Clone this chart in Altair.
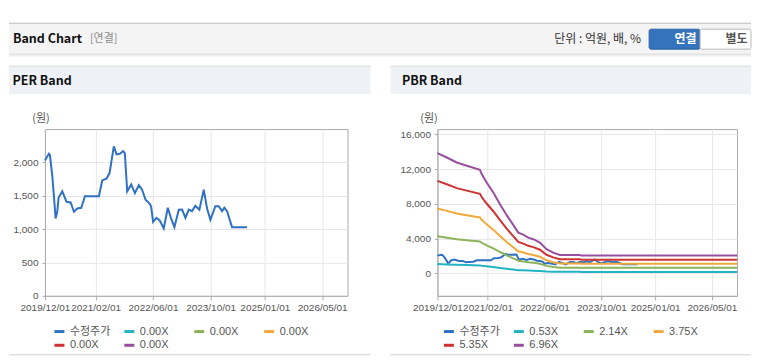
import altair as alt
import pandas as pd

FONT = "Liberation Sans, Noto Sans CJK KR, sans-serif"
KFONT = "Noto Sans CJK KR, sans-serif"

# ---------------- data ----------------
price_dates = [
    "2019-12-01", "2020-01-03", "2020-01-12", "2020-02-01", "2020-02-15", "2020-02-29",
    "2020-03-14", "2020-03-25", "2020-04-25", "2020-06-01", "2020-07-05", "2020-08-02",
    "2020-08-30", "2020-10-03", "2020-11-03", "2021-03-01", "2021-03-29", "2021-05-04",
    "2021-05-30", "2021-07-05", "2021-07-28", "2021-08-25", "2021-09-22", "2021-10-06",
    "2021-10-26", "2021-11-29", "2021-12-30", "2022-02-01", "2022-03-01", "2022-03-30",
    "2022-05-05", "2022-05-16", "2022-06-02", "2022-06-30", "2022-07-28", "2022-08-31",
    "2022-10-04", "2022-11-01", "2022-11-29", "2023-01-05", "2023-02-02", "2023-03-02",
    "2023-03-30", "2023-04-27", "2023-05-25", "2023-06-28", "2023-08-04", "2023-09-01",
    "2023-09-29", "2023-11-10", "2023-12-08", "2024-01-06", "2024-01-25", "2024-02-17",
    "2024-03-30", "2024-08-03",
]
price_values = [
    2030, 2130, 2110, 1800, 1490, 1160,
    1260, 1470, 1567, 1410, 1400, 1260,
    1310, 1320, 1493, 1493, 1730, 1756,
    1840, 2240, 2120, 2130, 2170, 2140,
    1567, 1670, 1540, 1660, 1590, 1440,
    1380, 1340, 1110, 1170, 1130, 1010,
    1320, 1160, 1030, 1290, 1294, 1170,
    1294, 1270, 1350, 1290, 1592, 1310,
    1140, 1343, 1343, 1270, 1320, 1270,
    1030, 1030,
]

band_dates = [
    "2019-12-01", "2020-02-19", "2020-05-14", "2020-08-07", "2020-11-28", "2020-12-13",
    "2021-01-24", "2021-03-22", "2021-05-18", "2021-07-14", "2021-09-08", "2021-10-21",
    "2021-12-03", "2022-01-14", "2022-02-26", "2022-04-24", "2022-06-19", "2022-08-15",
    "2022-10-11", "2023-03-30", "2023-04-14", "2026-12-01",
]
band_053 = [1054, 1015, 971, 942, 907, 869, 796, 708, 606, 509, 424, 357,
            339, 313, 298, 269, 211, 181, 160, 160, 155, 155]
band_214 = [4254, 4098, 3920, 3805, 3662, 3510, 3212, 2857, 2446, 2057, 1712, 1440,
            1367, 1263, 1205, 1085, 852, 730, 646, 646, 625, 625]
band_375 = [7455, 7181, 6870, 6668, 6416, 6150, 5629, 5006, 4286, 3604, 3000, 2524,
            2396, 2213, 2111, 1901, 1493, 1279, 1133, 1133, 1095, 1095]
band_535 = [10636, 10245, 9801, 9512, 9154, 8774, 8030, 7142, 6115, 5141, 4280, 3601,
            3419, 3157, 3012, 2712, 2129, 1824, 1616, 1616, 1562, 1562]
band_696 = [13836, 13328, 12751, 12375, 11909, 11414, 10447, 9292, 7955, 6689, 5568, 4684,
            4447, 4106, 3918, 3529, 2770, 2373, 2102, 2102, 2032, 2032]

series_keys = ["k0", "k1", "k2", "k3", "k4", "k5"]
per_labels = ["수정주가", "0.00X", "0.00X", "0.00X", "0.00X", "0.00X"]
pbr_labels = ["수정주가", "0.53X", "2.14X", "3.75X", "5.35X", "6.96X"]
series_colors = ["#2f72c4", "#22b3c4", "#8cb35a", "#f2a93b", "#cf3232", "#984f9e"]

x_domain = ["2019-12-01", "2026-12-01"]
x_ticks = ["2019-12-01", "2021-02-01", "2022-06-01", "2023-10-01", "2025-01-01", "2026-05-01"]
per_y_domain = [0, 2500]
per_y_ticks = [0, 500, 1000, 1500, 2000]
pbr_y_domain = [-2600, 16600]
pbr_y_ticks = [0, 4000, 8000, 12000, 16000]

# ---------------- tables ----------------
price_df = pd.DataFrame({"date": price_dates, "value": price_values, "key": series_keys[0]})
band_df = pd.concat(
    [pd.DataFrame({"date": band_dates, "value": vals, "key": k})
     for k, vals in zip(series_keys[1:], [band_053, band_214, band_375, band_535, band_696])],
    ignore_index=True,
)
pbr_df = pd.concat([price_df, band_df], ignore_index=True)

one = pd.DataFrame({"d": [0]})


def dt(s):
    y, m, d = map(int, s.split("-"))
    return alt.DateTime(year=y, month=m, date=d, utc=True)


def rect(x, x2, y, y2, fill, stroke=None, radius=0):
    kw = {"fill": fill}
    if stroke:
        kw["stroke"] = stroke
        kw["strokeWidth"] = 1
    if radius:
        kw["cornerRadius"] = radius
    return alt.Chart(one).mark_rect(**kw).encode(
        x=alt.value(x), x2=alt.value(x2), y=alt.value(y), y2=alt.value(y2))


def hline(x, x2, y, color):
    return alt.Chart(one).mark_rule(color=color, strokeWidth=1).encode(
        x=alt.value(x), x2=alt.value(x2), y=alt.value(y))


def text(s, x, y, size, color, bold=False, align="left", font=KFONT):
    return alt.Chart(one).mark_text(
        text=s, align=align, baseline="middle", fontSize=size, color=color,
        fontWeight="bold" if bold else "normal", font=font,
    ).encode(x=alt.value(x), y=alt.value(y))


def label_expr(labels):
    keys = ",".join("'%s'" % k for k in series_keys)
    labs = ",".join("'%s'" % l for l in labels)
    return "[%s][indexof([%s], datum.value)]" % (labs, keys)


def line_layer(df, labels, y_domain, y_ticks, legend_x):
    x_enc = alt.X(
        "date:T",
        scale=alt.Scale(type="utc", domain=[dt(x_domain[0]), dt(x_domain[1])], nice=False),
        axis=alt.Axis(values=[dt(t) for t in x_ticks], format="%Y/%m/%d", title=None,
                      labelFlush=False, labelOverlap=False, grid=True, gridColor="#e7e7e7",
                      domainColor="#ababab", tickColor="#ababab", tickSize=4,
                      labelFont=FONT, labelFontSize=10, labelColor="#555555", labelPadding=3),
    )
    y_enc = alt.Y(
        "value:Q",
        scale=alt.Scale(domain=y_domain, nice=False, zero=False),
        axis=alt.Axis(values=y_ticks, format=",d", title=None, grid=True, gridColor="#e7e7e7",
                      domainColor="#ababab", tickColor="#ababab", tickSize=3,
                      labelFont=FONT, labelFontSize=10, labelColor="#555555", labelPadding=4),
    )
    color_enc = alt.Color(
        "key:N",
        scale=alt.Scale(domain=series_keys, range=series_colors),
        legend=alt.Legend(
            title=None, orient="none", legendX=legend_x, legendY=196, direction="horizontal",
            columns=4, gridAlign="all", columnPadding=7, rowPadding=1, padding=0,
            symbolType="stroke", symbolSize=100, symbolStrokeWidth=3,
            labelFont=FONT, labelFontSize=11, labelColor="#555555", labelOffset=4,
            labelExpr=label_expr(labels),
        ),
    )
    return alt.Chart(df).mark_line(strokeWidth=2).encode(x=x_enc, y=y_enc, color=color_enc)


W1, W2, H = 303, 300, 167
BOTTOM = 226

# ---------------- PER panel (origin = plot top-left) ----------------
per = alt.layer(
    # page header bar (spans the whole page)
    rect(-36, 707, -106, -75, "#f4f4f4"),
    hline(-36, 707, -106, "#bcbcbc"),
    hline(-36, 707, -75, "#d6d6d6"),
    hline(-36, 707, -74, "#e6e6e6"),
    hline(-36, 707, -73, "#f1f1f1"),
    text("Band Chart", -32, -90, 12.5, "#111111", bold=True),
    text("[연결]", 45, -90, 11, "#8a8a8a"),
    text("단위 : 억원, 배, %", 597, -90, 12, "#333333", align="right"),
    rect(605, 656, -100, -80, "#3573bd", stroke="#2b63a8", radius=2),
    text("연결", 630.5, -90, 12, "#ffffff", bold=True),
    rect(656, 707, -100, -80, "#ffffff", stroke="#b9b9b9", radius=2),
    text("별도", 681.5, -90, 12, "#555555", bold=True),
    # panel header
    rect(-36, 326, -63, -35, "#eef2f7"),
    hline(-36, 326, -63, "#d9d9d9"),
    text("PER Band", -32.5, -48, 12.5, "#111111", bold=True),
    text("(원)", -4, -10, 11, "#555555", align="center"),
    hline(-36, 326, BOTTOM, "#cfcfcf"),
    line_layer(price_df, per_labels, per_y_domain, per_y_ticks, 8),
).properties(width=W1, height=H)

# ---------------- PBR panel ----------------
pbr = alt.layer(
    rect(-47, 314, -63, -35, "#eef2f7"),
    hline(-47, 314, -63, "#d9d9d9"),
    text("PBR Band", -35.5, -48, 12.5, "#111111", bold=True),
    text("(원)", -8.5, -10, 11, "#555555", align="center"),
    hline(-47, 314, BOTTOM, "#cfcfcf"),
    line_layer(pbr_df, pbr_labels, pbr_y_domain, pbr_y_ticks, 5),
).properties(width=W2, height=H)

chart = (
    alt.hconcat(per, pbr, spacing=90, bounds="flush")
    .resolve_scale(x="independent", y="independent", color="independent")
    .properties(padding={"left": 0, "top": 14, "right": 0, "bottom": 0}, background="#ffffff")
    .configure_view(stroke="#ababab", strokeWidth=1, fill="#ffffff")
)

chart.save("out.html", embed_options={"renderer": "svg", "actions": False})
